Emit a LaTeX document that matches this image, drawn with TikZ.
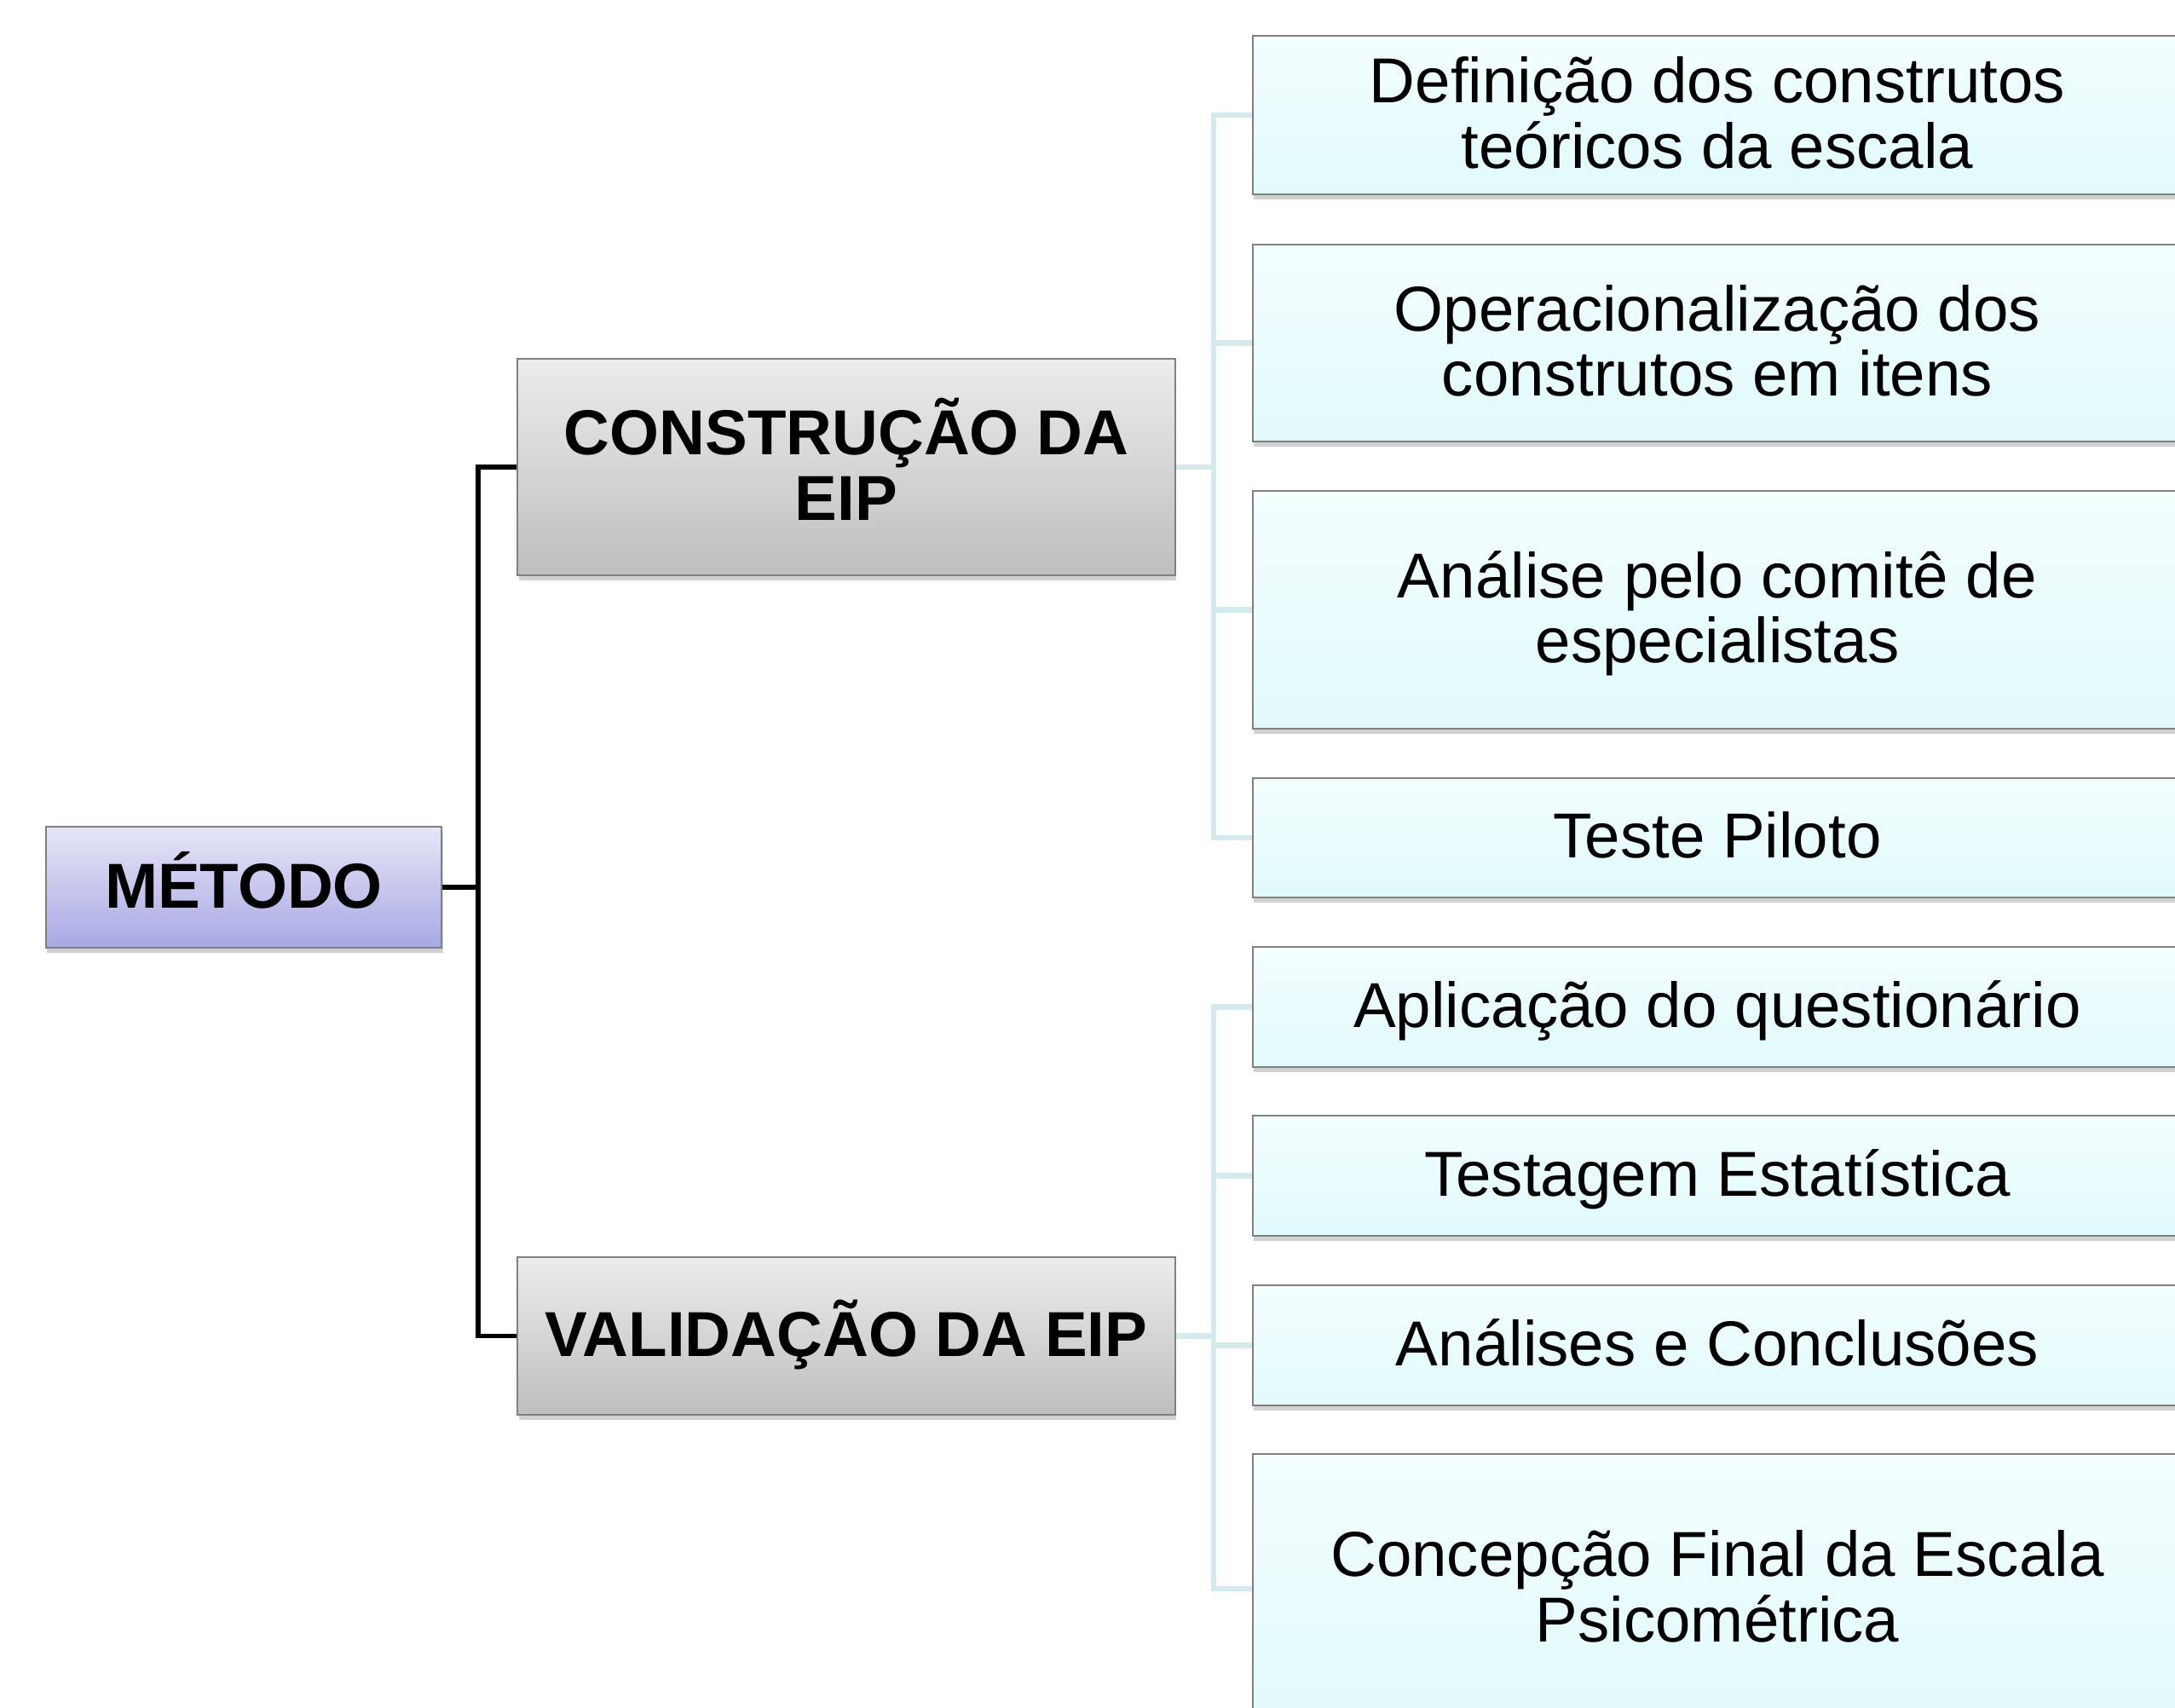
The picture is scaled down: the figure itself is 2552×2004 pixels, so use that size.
\documentclass[tikz,border=0pt]{standalone}
\usepackage{fontspec}
\setmainfont{Liberation Sans}
\usetikzlibrary{shadows}
\definecolor{linhaBox}{RGB}{128,128,128}
\definecolor{metTop}{RGB}{230,230,248}
\definecolor{metBot}{RGB}{168,168,228}
\definecolor{faseTop}{RGB}{236,236,236}
\definecolor{faseBot}{RGB}{190,190,190}
\definecolor{etapaTop}{RGB}{244,254,254}
\definecolor{etapaBot}{RGB}{224,250,252}
\definecolor{ramoCor}{RGB}{212,234,236}
% altura e profundidade fixas de linha
\newcommand{\alto}{\rule{0pt}{0.88em}}
\newcommand{\fundo}{\rule[-0.24em]{0pt}{0.24em}}
\tikzstyle{caixa} = [rectangle, draw=linhaBox, line width=0.5pt, align=center, inner sep=0pt,
  font=\fontsize{21.2}{21.8}\selectfont,
  drop shadow={shadow xshift=0.4pt, shadow yshift=-1.6pt, opacity=0.3, fill=black!60}]
\tikzstyle{metodobox} = [caixa, font=\fontsize{21.2}{21.8}\selectfont\bfseries, top color=metTop, bottom color=metBot, minimum width=4.64cm, minimum height=1.42cm]
\tikzstyle{fase} = [caixa, font=\fontsize{21.2}{21.8}\selectfont\bfseries, top color=faseTop, bottom color=faseBot, minimum width=7.71cm]
\tikzstyle{etapa} = [caixa, top color=etapaTop, bottom color=etapaBot, minimum width=10.9cm]
\tikzstyle{tronco} = [line width=1.6pt, black]
\tikzstyle{ramo} = [line width=1.8pt, ramoCor]

\begin{document}
\begin{tikzpicture}[x=0.01cm, y=-0.01cm]
  \useasboundingbox (0,0) rectangle (2552,2004);
  \clip (0,0) rectangle (2552,2004);

  % raiz
  \node[metodobox] (metodo) at (286,1041) {\alto MÉTODO\fundo};

  % fases
  \node[fase, minimum height=2.54cm] (construcao) at (993,548) {\alto CONSTRUÇÃO DA\\EIP\fundo};
  \node[fase, minimum height=1.85cm] (validacao) at (993,1567.5) {\alto VALIDAÇÃO DA EIP\fundo};

  % etapas da construção
  \node[etapa, minimum height=1.86cm] (definicao) at (2015,135) {\alto Definição dos construtos\\teóricos da escala\fundo};
  \node[etapa, minimum height=2.31cm] (operacional) at (2015,402.5) {\alto Operacionalização dos\\construtos em itens\fundo};
  \node[etapa, minimum height=2.79cm] (comite) at (2015,715.5) {\alto Análise pelo comitê de\\especialistas\fundo};
  \node[etapa, minimum height=1.40cm] (piloto) at (2015,983) {\alto Teste Piloto\fundo};

  % etapas da validação
  \node[etapa, minimum height=1.41cm] (aplicacao) at (2015,1181.5) {\alto Aplicação do questionário\fundo};
  \node[etapa, minimum height=1.41cm] (testagem) at (2015,1379.5) {\alto Testagem Estatística\fundo};
  \node[etapa, minimum height=1.41cm] (conclusoes) at (2015,1578.5) {\alto Análises e Conclusões\fundo};
  \node[etapa, minimum height=3.16cm] (concepcao) at (2015,1864) {\alto Concepção Final da Escala\\Psicométrica\fundo};

  % pontos de junção
  \coordinate (j0) at (561,1041);
  \coordinate (j1) at (1424,548);
  \coordinate (j2) at (1424,1567.5);

  % ligações
  \draw[tronco] (metodo) -- (j0) |- (construcao);
  \draw[tronco] (j0) |- (validacao);

  \draw[ramo] (construcao) -- (j1) |- (definicao);
  \draw[ramo] (j1) |- (operacional);
  \draw[ramo] (j1) |- (comite);
  \draw[ramo] (j1) |- (piloto);

  \draw[ramo] (validacao) -- (j2) |- (aplicacao);
  \draw[ramo] (j2) |- (testagem);
  \draw[ramo] (j2) |- (conclusoes);
  \draw[ramo] (j2) |- (concepcao);
\end{tikzpicture}
\end{document}
